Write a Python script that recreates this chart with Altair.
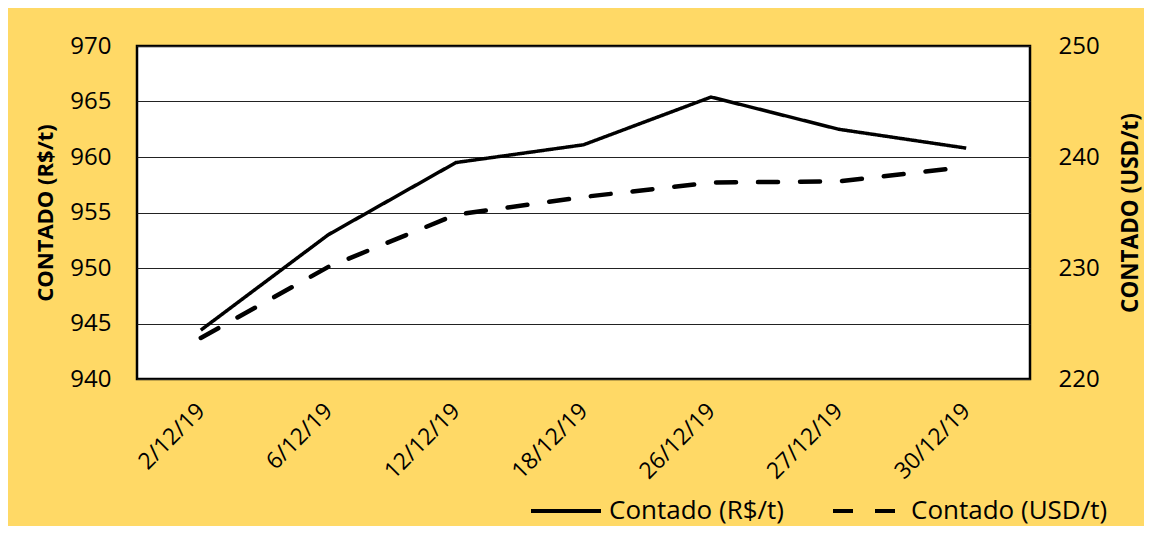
import altair as alt
import pandas as pd

dates = ["2/12/19", "6/12/19", "12/12/19", "18/12/19", "26/12/19", "27/12/19", "30/12/19"]
brl = [944.4, 953.0, 959.5, 961.1, 965.4, 962.5, 960.8]
usd = [223.7, 230.1, 234.8, 236.4, 237.7, 237.8, 239.1]
series_names = ["Contado (R$/t)", "Contado (USD/t)"]
left_ticks = [940, 945, 950, 955, 960, 965, 970]
right_ticks = [220, 230, 240, 250]

df_brl = pd.DataFrame({"date": dates, "value": brl, "series": series_names[0]})
df_usd = pd.DataFrame({"date": dates, "value": usd, "series": series_names[1]})

FONT = "Open Sans"

x_enc = alt.X(
    "date:N",
    sort=None,
    scale=alt.Scale(type="point", padding=0.5),
    axis=alt.Axis(
        title=None, labelAngle=315, labelAlign="right", labelBaseline="middle",
        labelFontSize=23, labelFont=FONT, labelColor="black", labelPadding=28,
        ticks=False, domain=False, grid=False,
    ),
)

dash_scale = alt.Scale(domain=series_names, range=[[1, 0], [20, 22]])
legend = alt.Legend(
    title=None, orient="none", legendX=392, legendY=428, direction="horizontal",
    symbolType="stroke", symbolSize=4900, symbolStrokeWidth=4, symbolStrokeColor="black",
    labelFontSize=26, labelFont=FONT, labelColor="black", labelOffset=6, labelLimit=400,
    columnPadding=40, padding=0,
)

left = alt.Chart(df_brl).mark_line(color="black", strokeWidth=3.5).encode(
    x=x_enc,
    y=alt.Y(
        "value:Q",
        scale=alt.Scale(domain=[940, 970], nice=False, zero=False),
        axis=alt.Axis(
            values=left_ticks, title="CONTADO (R$/t)", titleX=-92, titleY=166.5,
            titleAngle=270, titleAlign="center", titleBaseline="middle",
            titleFont=FONT, titleFontSize=22, titleFontWeight="bold", titleColor="black",
            labelFont=FONT, labelFontSize=24, labelColor="black", labelPadding=26,
            ticks=False, domain=False, grid=True, gridColor="#222222", gridWidth=1,
        ),
    ),
    strokeDash=alt.StrokeDash("series:N", scale=dash_scale, legend=legend),
)

right = alt.Chart(df_usd).mark_line(color="black", strokeWidth=4.5, strokeCap="round").encode(
    x=x_enc,
    y=alt.Y(
        "value:Q",
        scale=alt.Scale(domain=[220, 250], nice=False, zero=False),
        axis=alt.Axis(
            orient="right", values=right_ticks, title="CONTADO (USD/t)", titleX=100, titleY=166.5,
            titleAngle=270, titleAlign="center", titleBaseline="middle",
            titleFont=FONT, titleFontSize=22.5, titleFontWeight="bold", titleColor="black",
            labelFont=FONT, labelFontSize=24, labelColor="black", labelPadding=28,
            ticks=False, domain=False, grid=False,
        ),
    ),
    strokeDash=alt.StrokeDash("series:N", scale=dash_scale, legend=legend),
)

chart = (
    alt.layer(left, right)
    .resolve_scale(y="independent")
    .properties(
        width=893, height=333,
        padding={"left": 129, "top": 38, "right": 114, "bottom": 147},
        autosize=alt.AutoSizeParams(type="none"),
        background="#FFD966",
    )
    .configure_view(stroke="black", strokeWidth=2.5, fill="white")
)

chart.save("out.html", embed_options={"renderer": "svg", "actions": False})
